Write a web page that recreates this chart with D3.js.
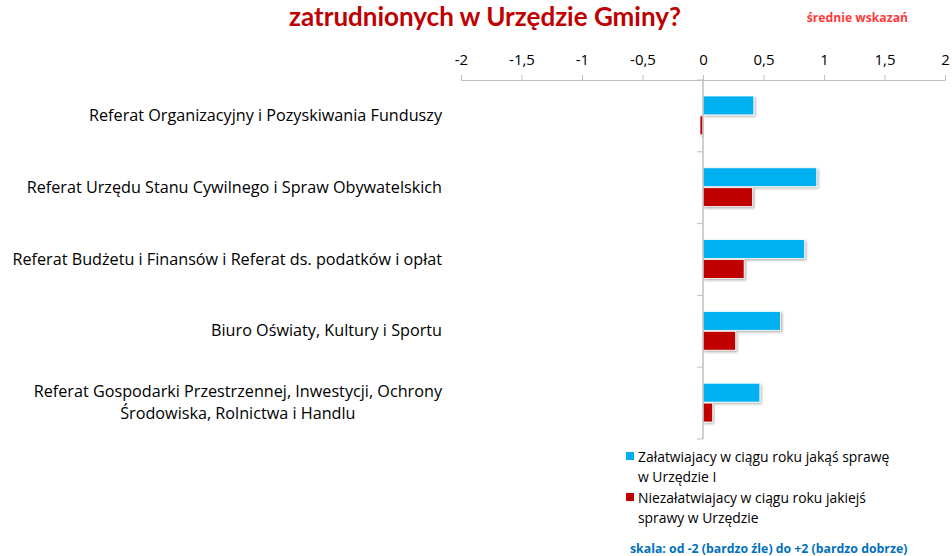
<!DOCTYPE html>
<html>
<head>
<meta charset="utf-8">
<script src="https://cdn.jsdelivr.net/npm/d3@7"></script>
<style>
	body { margin: 0; background: #fff; }
	svg { display: block; font-family: "Open Sans", sans-serif; }
</style>
</head>
<body>
<svg id="chart" width="952" height="556"></svg>
<script>
var categories = [
	['Referat Organizacyjny i Pozyskiwania Funduszy'],
	['Referat Urzędu Stanu Cywilnego i Spraw Obywatelskich'],
	['Referat Budżetu i Finansów i Referat ds. podatków i opłat'],
	['Biuro Oświaty, Kultury i Sportu'],
	['Referat Gospodarki Przestrzennej, Inwestycji, Ochrony', 'Środowiska, Rolnictwa i Handlu']
];
var seriesNames = [
	['Załatwiajacy w ciągu roku jakąś sprawę', 'w Urzędzie I'],
	['Niezałatwiajacy w ciągu roku jakiejś', 'sprawy w Urzędzie']
];
var zalatwiajacy = [0.42, 0.94, 0.84, 0.64, 0.47];
var niezalatwiajacy = [-0.025, 0.41, 0.34, 0.27, 0.08];
var tickValues = [-2, -1.5, -1, -0.5, 0, 0.5, 1, 1.5, 2];
var colors = ['#00B0F0', '#C00000'];

var svg = d3.select('#chart');
var margin = {top: 80, left: 461, right: 7, bottom: 117};
var width = 952 - margin.left - margin.right;
var height = 556 - margin.top - margin.bottom;

// drop shadow like the office chart
var defs = svg.append('defs');
var f = defs.append('filter').attr('id', 'sh').attr('x', '-10%').attr('y', '-20%').attr('width', '130%').attr('height', '160%');
f.append('feDropShadow').attr('dx', 1.5).attr('dy', 1.5).attr('stdDeviation', 1).attr('flood-color', '#000').attr('flood-opacity', 0.3);

svg.append('text')
	.attr('x', 485).attr('y', 26)
	.attr('text-anchor', 'middle')
	.style('font-family', 'Lato, sans-serif')
	.style('font-size', '26px').style('font-weight', 'bold')
	.attr('fill', '#C00000')
	.text('zatrudnionych w Urzędzie Gminy?');

svg.append('text')
	.attr('x', 908).attr('y', 22)
	.attr('text-anchor', 'end')
	.style('font-size', '12.2px').style('font-weight', 'bold')
	.attr('fill', '#FF3B3B')
	.text('średnie wskazań');

var g = svg.append('g').attr('transform', 'translate(' + margin.left + ',' + margin.top + ')');

var x = d3.scaleLinear().domain([-2, 2]).range([0, width]);
var y = d3.scaleBand().domain(d3.range(categories.length)).range([0, height]);
var inner = d3.scaleBand().domain([0, 1]).range([16, y.bandwidth() - 16]);

// top value axis
var xAxis = g.append('g')
	.call(d3.axisTop(x).tickValues(tickValues).tickSize(5).tickPadding(10)
		.tickFormat(function(d) { return String(d).replace('.', ','); }));
xAxis.select('.domain').attr('stroke', '#bfbfbf');
xAxis.selectAll('.tick line').attr('stroke', '#bfbfbf');
xAxis.selectAll('.tick text').attr('fill', '#000').style('font-size', '15px').style('font-family', '"Open Sans", sans-serif');

var series = [zalatwiajacy, niezalatwiajacy];
series.forEach(function(vals, si) {
	g.append('g').selectAll('rect')
		.data(vals).enter()
		.append('rect')
		.attr('x', function(d) { return x(Math.min(0, d)); })
		.attr('y', function(d, i) { return y(i) + inner(si); })
		.attr('width', function(d) { return Math.max(2, Math.abs(x(d) - x(0))); })
		.attr('height', inner.bandwidth() - 1)
		.attr('fill', colors[si])
		.attr('stroke', '#fff')
		.attr('stroke-width', 0.8)
		.attr('filter', 'url(#sh)');
});

// category axis at zero
var yAxisG = g.append('g').attr('transform', 'translate(' + x(0) + ',0)');
yAxisG.append('line').attr('y1', 0).attr('y2', height).attr('stroke', '#bfbfbf').attr('stroke-width', 1.5);
yAxisG.selectAll('.tk')
	.data(d3.range(categories.length + 1)).enter()
	.append('line')
	.attr('x1', -6).attr('x2', 0)
	.attr('y1', function(d) { return d * y.step(); })
	.attr('y2', function(d) { return d * y.step(); })
	.attr('stroke', '#bfbfbf');

// category labels
var lab = svg.append('g').selectAll('text')
	.data(categories).enter()
	.append('text')
	.style('font-size', '16.2px')
	.attr('fill', '#000');
lab.each(function(lines, i) {
	var t = d3.select(this);
	var cy = margin.top + y(i) + y.bandwidth() / 2;
	var lh = 22;
	var y0 = cy - (lines.length - 1) * lh / 2 + 5;
	lines.forEach(function(s, k) {
		t.append('tspan')
			.attr('x', 442).attr('text-anchor', 'end')
			.attr('y', y0 + k * lh)
			.text(s);
	});
	if (lines.length > 1) {
		// second line centred under the first, like a wrapped office label
		var w0 = t.select('tspan').node().getComputedTextLength();
		t.selectAll('tspan').attr('text-anchor', 'middle').attr('x', 442 - w0 / 2);
	}
});

// legend
var leg = svg.append('g').attr('transform', 'translate(626,448)');
seriesNames.forEach(function(lines, i) {
	var gi = leg.append('g').attr('transform', 'translate(0,' + i * 41 + ')');
	gi.append('rect').attr('x', 0).attr('y', 4).attr('width', 8).attr('height', 8).attr('fill', colors[i]);
	lines.forEach(function(s, k) {
		gi.append('text').attr('x', 12).attr('y', 14 + k * 20)
			.style('font-size', '13.9px').attr('fill', '#000').text(s);
	});
});

svg.append('text')
	.attr('x', 630).attr('y', 553)
	.style('font-size', '12.3px').style('font-weight', 'bold')
	.attr('fill', '#0070C0')
	.text('skala: od -2 (bardzo źle) do +2 (bardzo dobrze)');
</script>
</body>
</html>
